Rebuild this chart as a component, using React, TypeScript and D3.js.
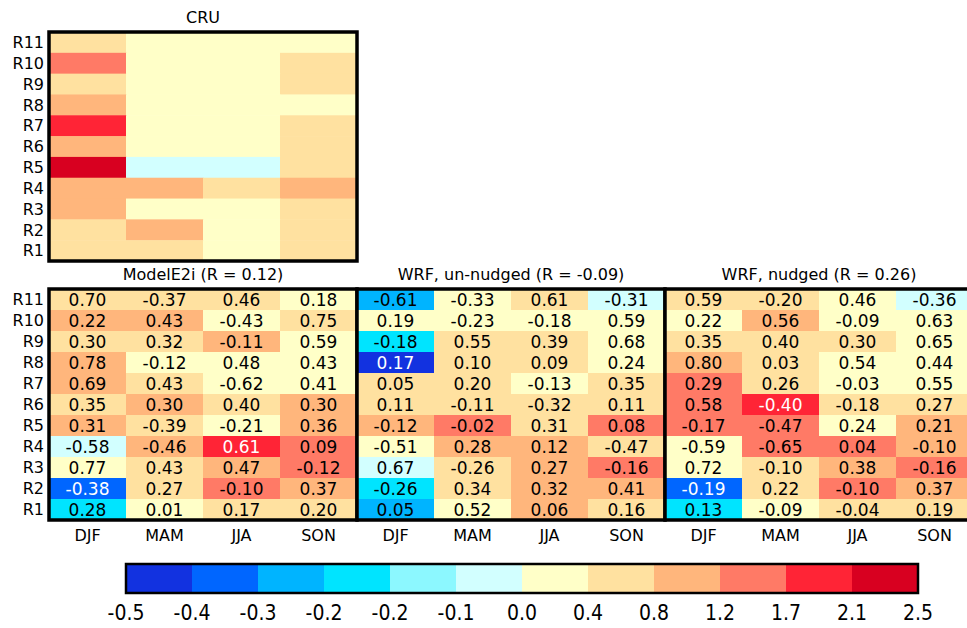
import React from "react";
import * as d3 from "d3";

// rows top to bottom, columns DJF MAM JJA SON
const seasons = ["DJF", "MAM", "JJA", "SON"];
const regions = ["R11", "R10", "R9", "R8", "R7", "R6", "R5", "R4", "R3", "R2", "R1"];

// colour bar
const colorTickLabels = ["-0.5", "-0.4", "-0.3", "-0.2", "-0.2", "-0.1", "0.0", "0.4", "0.8", "1.2", "1.7", "2.1", "2.5"];
const colorEdges = [-0.4, -0.3, -0.25, -0.15, -0.1, 0, 0.4, 0.8, 1.2, 1.7, 2.1];
const binColors = [
  "#1232e0", "#0066ff", "#00b4ff", "#00e4ff", "#8cf8ff", "#d2ffff",
  "#ffffc8", "#ffe1a0", "#ffb67c", "#ff7a66", "#ff2436", "#d80020",
];

// shaded field (estimated from the colours)
const cruField = [
  [0.6, 0.2, 0.2, 0.2],
  [1.45, 0.2, 0.2, 0.6],
  [0.6, 0.2, 0.2, 0.6],
  [1.0, 0.2, 0.2, 0.2],
  [1.9, 0.2, 0.2, 0.6],
  [1.0, 0.2, 0.2, 0.6],
  [2.3, -0.05, -0.05, 0.6],
  [1.0, 1.0, 0.6, 1.0],
  [1.0, 0.2, 0.2, 0.6],
  [0.6, 1.0, 0.2, 0.6],
  [0.6, 0.6, 0.2, 0.6],
];

const modelField = [
  [0.6, 0.6, 0.6, 0.2],
  [1.0, 1.0, 0.2, 0.6],
  [0.6, 0.6, 1.0, 0.2],
  [1.0, 0.2, 0.2, 0.2],
  [1.0, 0.6, 0.2, 0.2],
  [0.6, 1.0, 0.6, 1.0],
  [1.0, 0.6, 0.2, 1.0],
  [-0.05, 1.0, 1.9, 1.45],
  [0.2, 0.6, 1.0, 1.45],
  [-0.35, 0.6, 1.45, 1.0],
  [-0.2, 0.2, 0.6, 0.6],
];
const modelR = [
  ["0.70", "-0.37", "0.46", "0.18"],
  ["0.22", "0.43", "-0.43", "0.75"],
  ["0.30", "0.32", "-0.11", "0.59"],
  ["0.78", "-0.12", "0.48", "0.43"],
  ["0.69", "0.43", "-0.62", "0.41"],
  ["0.35", "0.30", "0.40", "0.30"],
  ["0.31", "-0.39", "-0.21", "0.36"],
  ["-0.58", "-0.46", "0.61", "0.09"],
  ["0.77", "0.43", "0.47", "-0.12"],
  ["-0.38", "0.27", "-0.10", "0.37"],
  ["0.28", "0.01", "0.17", "0.20"],
];

const unnudgedField = [
  [-0.28, 0.2, 0.6, -0.05],
  [0.2, 0.2, 0.2, 0.2],
  [-0.2, 0.6, 0.6, 0.2],
  [-0.45, 0.6, 0.6, 0.2],
  [0.6, 0.6, 0.2, 0.6],
  [0.6, 0.6, 0.6, 0.6],
  [1.0, 1.45, 0.6, 1.45],
  [0.2, 1.0, 1.0, 0.6],
  [-0.05, 0.6, 1.0, 1.45],
  [-0.2, 0.6, 1.0, 1.0],
  [-0.28, 0.2, 1.0, 0.6],
];
const unnudgedR = [
  ["-0.61", "-0.33", "0.61", "-0.31"],
  ["0.19", "-0.23", "-0.18", "0.59"],
  ["-0.18", "0.55", "0.39", "0.68"],
  ["0.17", "0.10", "0.09", "0.24"],
  ["0.05", "0.20", "-0.13", "0.35"],
  ["0.11", "-0.11", "-0.32", "0.11"],
  ["-0.12", "-0.02", "0.31", "0.08"],
  ["-0.51", "0.28", "0.12", "-0.47"],
  ["0.67", "-0.26", "0.27", "-0.16"],
  ["-0.26", "0.34", "0.32", "0.41"],
  ["0.05", "0.52", "0.06", "0.16"],
];

const nudgedField = [
  [0.6, 0.6, 0.2, -0.05],
  [0.2, 1.0, 0.2, 0.2],
  [0.6, 0.6, 0.6, 0.2],
  [1.0, 0.6, 0.2, 0.2],
  [1.45, 0.6, 0.2, 0.2],
  [1.45, 1.9, 0.6, 0.6],
  [1.45, 1.45, 0.2, 1.0],
  [0.2, 1.45, 1.45, 1.0],
  [0.2, 0.6, 1.0, 1.45],
  [-0.35, 0.6, 1.45, 1.0],
  [-0.2, 0.2, 0.6, 0.6],
];
const nudgedR = [
  ["0.59", "-0.20", "0.46", "-0.36"],
  ["0.22", "0.56", "-0.09", "0.63"],
  ["0.35", "0.40", "0.30", "0.65"],
  ["0.80", "0.03", "0.54", "0.44"],
  ["0.29", "0.26", "-0.03", "0.55"],
  ["0.58", "-0.40", "-0.18", "0.27"],
  ["-0.17", "-0.47", "0.24", "0.21"],
  ["-0.59", "-0.65", "0.04", "-0.10"],
  ["0.72", "-0.10", "0.38", "-0.16"],
  ["-0.19", "0.22", "-0.10", "0.37"],
  ["0.13", "-0.09", "-0.04", "0.19"],
];

const FONT = "'DejaVu Sans', sans-serif";
const color = d3.scaleThreshold<number, string>().domain(colorEdges).range(binColors);
const darkCell = (v: number) => v < -0.3 || v >= 1.7;

type PanelProps = {
  x0: number;
  y0: number;
  w: number;
  h: number;
  title: string;
  field: number[][];
  labels?: string[][];
  rowLabels: boolean;
  seasonLabels: boolean;
};

const Panel = ({ x0, y0, w, h, title, field, labels, rowLabels, seasonLabels }: PanelProps) => {
  const x = d3.scaleBand().domain(seasons).range([x0, x0 + w]);
  const y = d3.scaleBand().domain(regions).range([y0, y0 + h]);
  return (
    <g>
      {regions.map((r, i) =>
        seasons.map((s, j) => (
          <rect
            key={r + s}
            x={x(s)}
            y={y(r)}
            width={x.bandwidth() + 0.5}
            height={y.bandwidth() + 0.5}
            fill={color(field[i][j])}
          />
        ))
      )}
      {labels &&
        regions.map((r, i) =>
          seasons.map((s, j) => (
            <text
              key={"t" + r + s}
              x={x(s)! + x.bandwidth() / 2}
              y={y(r)! + y.bandwidth() / 2}
              dy="0.36em"
              textAnchor="middle"
              fontSize={17}
              fill={darkCell(field[i][j]) ? "#fff" : "#000"}
            >
              {labels[i][j]}
            </text>
          ))
        )}
      <rect x={x0} y={y0} width={w} height={h} fill="none" stroke="#000" strokeWidth={3.5} />
      <text x={x0 + w / 2} y={y0 - 9} textAnchor="middle" fontSize={16}>
        {title}
      </text>
      {rowLabels &&
        regions.map((r) => (
          <text key={"r" + r} x={x0 - 5} y={y(r)! + y.bandwidth() / 2} dy="0.36em" textAnchor="end" fontSize={16}>
            {r}
          </text>
        ))}
      {seasonLabels &&
        seasons.map((s) => (
          <text key={"s" + s} x={x(s)! + x.bandwidth() / 2} y={y0 + h + 21} textAnchor="middle" fontSize={16}>
            {s}
          </text>
        ))}
    </g>
  );
};

const ColorBar = () => {
  const bx = d3.scaleLinear().domain([0, binColors.length]).range([126, 918]);
  const top = 564;
  const hgt = 29;
  return (
    <g>
      {binColors.map((c, i) => (
        <rect key={c} x={bx(i)} y={top} width={bx(i + 1) - bx(i) + 0.5} height={hgt} fill={c} />
      ))}
      <rect x={bx(0)} y={top} width={bx(binColors.length) - bx(0)} height={hgt} fill="none" stroke="#000" strokeWidth={2.5} />
      {colorTickLabels.map((t, i) => (
        <text
          key={"c" + i}
          x={bx(i)}
          y={620}
          textAnchor="middle"
          fontSize={21}
          style={{ fontStretch: "condensed" }}
          fontFamily="'DejaVu Sans Condensed', 'DejaVu Sans', sans-serif"
        >
          {t}
        </text>
      ))}
    </g>
  );
};

export default function App() {
  const pw = 308;
  return (
    <svg
      width={967}
      height={628}
      style={{ position: "absolute", left: 0, top: 0, background: "#fff" }}
      fontFamily={FONT}
    >
      <Panel x0={49} y0={32} w={pw} h={229} title="CRU" field={cruField} rowLabels seasonLabels={false} />
      <Panel x0={49} y0={289} w={pw} h={231} title="ModelE2i (R = 0.12)" field={modelField} labels={modelR} rowLabels seasonLabels />
      <Panel x0={49 + pw} y0={289} w={pw} h={231} title="WRF, un-nudged (R = -0.09)" field={unnudgedField} labels={unnudgedR} rowLabels={false} seasonLabels />
      <Panel x0={49 + 2 * pw} y0={289} w={pw} h={231} title="WRF, nudged (R = 0.26)" field={nudgedField} labels={nudgedR} rowLabels={false} seasonLabels />
      <ColorBar />
    </svg>
  );
}
